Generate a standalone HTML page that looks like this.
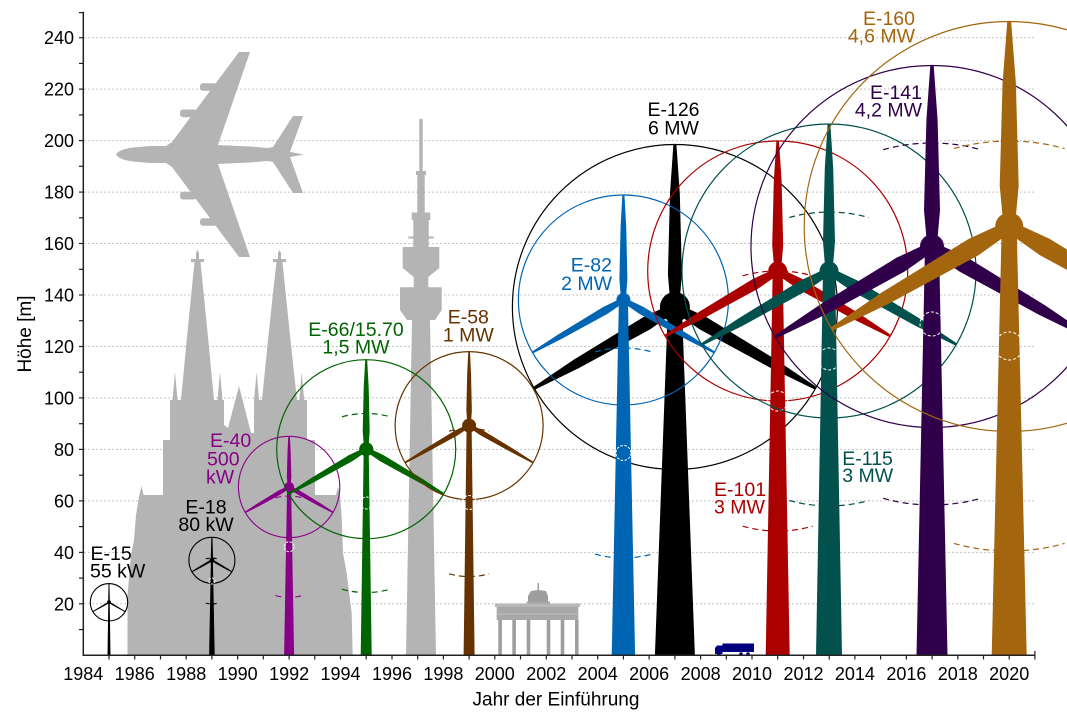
<!DOCTYPE html>
<html><head><meta charset="utf-8"><style>
html,body{margin:0;padding:0;background:#fff}
svg{display:block}
text{font-family:"Liberation Sans",Arial,sans-serif}
</style></head><body>
<svg width="1067" height="720" viewBox="0 0 1067 720" xmlns="http://www.w3.org/2000/svg">
<rect width="1067" height="720" fill="#fff"/>

<!-- grid -->
<g stroke="#c4c4c4" stroke-width="1" stroke-dasharray="2,2">
<line x1="84" x2="1034" y1="603.8" y2="603.8"/><line x1="84" x2="1034" y1="552.4" y2="552.4"/>
<line x1="84" x2="1034" y1="500.9" y2="500.9"/><line x1="84" x2="1034" y1="449.4" y2="449.4"/>
<line x1="84" x2="1034" y1="397.9" y2="397.9"/><line x1="84" x2="1034" y1="346.5" y2="346.5"/>
<line x1="84" x2="1034" y1="295.0" y2="295.0"/><line x1="84" x2="1034" y1="243.5" y2="243.5"/>
<line x1="84" x2="1034" y1="192.1" y2="192.1"/><line x1="84" x2="1034" y1="140.6" y2="140.6"/>
<line x1="84" x2="1034" y1="89.1" y2="89.1"/><line x1="84" x2="1034" y1="37.7" y2="37.7"/>
</g>

<!-- airplane -->
<g fill="#b4b4b4">
<path d="M116,154.5 C118,151 123,149 133,147.5 L150,146 L166,146 L172,142 L239,52 L250,52 L218,145 L250,146.5 L268,148 L273,147 L293,116 L303,116 L290,152 L304,154.5 L290,157 L303,193 L293,193 L273,162 L268,161 L250,162.5 L218,164 L250,257 L239,257 L172,167 L166,163 L150,163 L133,161.5 C123,160 118,158 116,154.5Z"/>
<rect x="200" y="83.3" width="17" height="7.5" rx="3"/>
<rect x="180" y="109.5" width="17" height="7.8" rx="3"/>
<rect x="180" y="191.7" width="17" height="7.8" rx="3"/>
<rect x="200" y="218.3" width="17" height="7.5" rx="3"/>
</g>

<!-- cathedral -->
<path fill="#b4b4b4" d="M127.5,655.3 L127.5,595 L131,555 L134,540 L136,515 L139,497 L141.5,486 L143.5,495 L163,495 L163,440 L170,440 L170,400 L172.5,400 L175,372 L177.5,400 L181,400 L186.7,340 L191.7,290 L194.5,262 L191,262 L191,259 L196,259 L196,253 L197.5,250 L199,253 L199,259 L204,259 L204,262 L200.5,262 L203.3,290 L208.3,340 L214,400 L217.5,400 L220,372 L222.5,400 L224,400 L224,425 L228,428 L239,386 L251,433 L254,433 L254,400 L256.7,372 L259,400 L262,400 L268,340 L273.3,290 L276.5,262 L273,262 L273,259 L278,259 L278,253 L279.5,250 L281,253 L281,259 L286,259 L286,262 L282.5,262 L285.3,290 L290.5,340 L297,400 L299.2,400 L301.7,372 L304.2,400 L307,400 L307,440 L315,440 L315,495 L336,495 L338,487 L340,495 L341.7,517 L343,553 L346.7,573 L351.7,613 L352.7,655.3Z"/>

<!-- TV tower -->
<path fill="#b4b4b4" d="M419.3,119 L422.7,119 L422.7,171 L426,171 L426,175 L424.7,175 L424.7,212.5 L430.3,212.5 L430.3,220 L428.7,220 L428.7,236.5 L433.7,236.5 L433.7,238.5 L428.7,238.5 L428.7,247 L439.3,247 L439.3,268 L428.3,277 L428.3,287.3 L441.7,287.3 L441.7,310 L435,320 L430,320 L436,655.3 L406,655.3 L412,320 L407,320 L400,310 L400,287.3 L413.7,287.3 L413.7,277 L402.7,268 L402.7,247 L413.3,247 L413.3,238.5 L408.3,238.5 L408.3,236.5 L413.3,236.5 L413.3,220 L411.7,220 L411.7,212.5 L417.3,212.5 L417.3,175 L416,175 L416,171 L419.3,171Z"/>

<!-- Brandenburg gate -->
<g>
<path fill="#9e9e9e" d="M537.5,583 L539,583 L539,590 L546,591 L548,596 L548,602 L528,602 L528,596 L531,591 L537.5,590Z"/>
<rect x="526.7" y="601.5" width="23.3" height="10" fill="#a4a4a4"/>
<rect x="495" y="603.5" width="85" height="3.5" fill="#b8b8b8"/>
<rect x="496.7" y="607" width="81.6" height="13" fill="#a8a8a8"/>
<rect x="496.7" y="613" width="81.6" height="2" fill="#b4b4b4"/>
<g fill="#9e9e9e">
<rect x="498.3" y="620" width="3.6" height="35.3"/><rect x="512.3" y="620" width="3.6" height="35.3"/>
<rect x="526.7" y="620" width="3.6" height="35.3"/><rect x="546.7" y="620" width="3.6" height="35.3"/>
<rect x="560.7" y="620" width="3.6" height="35.3"/><rect x="575" y="620" width="3.6" height="35.3"/>
</g>
</g>

<!-- truck -->
<g fill="#00007f">
<path d="M715,654 L715,648 L717,645.5 L722.5,645.5 L722.5,654Z"/>
<rect x="722.5" y="643.5" width="31.5" height="8.5"/>
<circle cx="719" cy="654" r="1.8"/><circle cx="741" cy="654" r="1.8"/><circle cx="748" cy="654" r="1.8"/>
</g>

<!-- E-15 -->
<g fill="#000">
<polygon points="107.5,655.3 108.3,602.3 109.7,602.3 110.5,655.3"/>
<g transform="translate(109,602.3)">
<path d="M-0.5,0 L-0.8,-3.7 L-0.56,-13.1 L-0.5,-18.7 L0.5,-18.7 L0.56,-13.1 L0.8,-3.7 L0.5,0Z"/>
<path d="M-0.5,0 L-0.8,-3.7 L-0.56,-13.1 L-0.5,-18.7 L0.5,-18.7 L0.56,-13.1 L0.8,-3.7 L0.5,0Z" transform="rotate(120)"/>
<path d="M-0.5,0 L-0.8,-3.7 L-0.56,-13.1 L-0.5,-18.7 L0.5,-18.7 L0.56,-13.1 L0.8,-3.7 L0.5,0Z" transform="rotate(240)"/>
<circle r="2"/>
</g>
<circle cx="109" cy="602.3" r="18.7" fill="none" stroke="#000" stroke-width="1.1"/>
</g>

<!-- E-18 -->
<g fill="#000">
<polygon points="209.1,655.3 210.9,560.3 212.9,560.3 214.7,655.3"/>
<g transform="translate(211.9,560.3)">
<path d="M-0.66,0 L-1.1,-4.6 L-0.77,-16.1 L-0.58,-23 L0.58,-23 L0.77,-16.1 L1.1,-4.6 L0.66,0Z"/>
<path d="M-0.66,0 L-1.1,-4.6 L-0.77,-16.1 L-0.58,-23 L0.58,-23 L0.77,-16.1 L1.1,-4.6 L0.66,0Z" transform="rotate(120)"/>
<path d="M-0.66,0 L-1.1,-4.6 L-0.77,-16.1 L-0.58,-23 L0.58,-23 L0.77,-16.1 L1.1,-4.6 L0.66,0Z" transform="rotate(240)"/>
<circle r="2.5"/>
</g>
<circle cx="211.9" cy="560.3" r="23" fill="none" stroke="#000" stroke-width="1.1"/>
<g fill="none" stroke="#000" stroke-width="1.1" stroke-dasharray="4,3">
<path d="M205.7,558.9 A23,23 0 0 1 218.1,558.9"/><path d="M205.7,603.1 A23,23 0 0 0 218.1,603.1"/>
</g>
<circle cx="211.9" cy="581" r="3" fill="none" stroke="#fff" stroke-width="1" stroke-dasharray="2,1.5"/>
</g>

<!-- E-40 -->
<g fill="#880088">
<polygon points="284.1,655.3 287.1,487 291.1,487 294.1,655.3"/>
<g transform="translate(289.1,487)">
<path d="M-1.35,0 L-2.25,-10.1 L-1.58,-35.5 L-0.76,-50.7 L0.76,-50.7 L1.58,-35.5 L2.25,-10.1 L1.35,0Z"/>
<path d="M-1.35,0 L-2.25,-10.1 L-1.58,-35.5 L-0.76,-50.7 L0.76,-50.7 L1.58,-35.5 L2.25,-10.1 L1.35,0Z" transform="rotate(120)"/>
<path d="M-1.35,0 L-2.25,-10.1 L-1.58,-35.5 L-0.76,-50.7 L0.76,-50.7 L1.58,-35.5 L2.25,-10.1 L1.35,0Z" transform="rotate(240)"/>
<circle r="5"/>
</g>
<circle cx="289.1" cy="487" r="50.7" fill="none" stroke="#880088" stroke-width="1.1"/>
<g fill="none" stroke="#880088" stroke-width="1.1" stroke-dasharray="6,4">
<path d="M275.4,497.9 A50.7,50.7 0 0 1 302.8,497.9"/><path d="M275.4,595.5 A50.7,50.7 0 0 0 302.8,595.5"/>
</g>
<circle cx="289.1" cy="546.7" r="5" fill="none" stroke="#fff" stroke-width="1" stroke-dasharray="2.5,1.5"/>
</g>

<!-- E-66 -->
<g fill="#006400">
<polygon points="360.7,655.3 363.7,449.2 368.7,449.2 371.7,655.3"/>
<g transform="translate(366.2,449.2)">
<path d="M-2.1,0 L-3.5,-17.9 L-2.45,-62.7 L-0.96,-89.5 L0.96,-89.5 L2.45,-62.7 L3.5,-17.9 L2.1,0Z"/>
<path d="M-2.1,0 L-3.5,-17.9 L-2.45,-62.7 L-0.96,-89.5 L0.96,-89.5 L2.45,-62.7 L3.5,-17.9 L2.1,0Z" transform="rotate(120)"/>
<path d="M-2.1,0 L-3.5,-17.9 L-2.45,-62.7 L-0.96,-89.5 L0.96,-89.5 L2.45,-62.7 L3.5,-17.9 L2.1,0Z" transform="rotate(240)"/>
<circle r="7"/>
</g>
<circle cx="366.2" cy="449.2" r="89.5" fill="none" stroke="#006400" stroke-width="1.2"/>
<g fill="none" stroke="#006400" stroke-width="1.2" stroke-dasharray="6,4">
<path d="M342,416.8 A89.5,89.5 0 0 1 390.4,416.8"/><path d="M342,589.2 A89.5,89.5 0 0 0 390.4,589.2"/>
</g>
<circle cx="366.2" cy="503" r="6" fill="none" stroke="#fff" stroke-width="1" stroke-dasharray="2.5,1.5"/>
</g>

<!-- E-58 -->
<g fill="#663300">
<polygon points="463.6,655.3 466.6,425.6 471.6,425.6 474.6,655.3"/>
<g transform="translate(469.1,425.6)">
<path d="M-1.65,0 L-2.75,-14.8 L-1.93,-51.8 L-0.84,-74 L0.84,-74 L1.93,-51.8 L2.75,-14.8 L1.65,0Z"/>
<path d="M-1.65,0 L-2.75,-14.8 L-1.93,-51.8 L-0.84,-74 L0.84,-74 L1.93,-51.8 L2.75,-14.8 L1.65,0Z" transform="rotate(120)"/>
<path d="M-1.65,0 L-2.75,-14.8 L-1.93,-51.8 L-0.84,-74 L0.84,-74 L1.93,-51.8 L2.75,-14.8 L1.65,0Z" transform="rotate(240)"/>
<circle r="7"/>
</g>
<circle cx="469.1" cy="425.6" r="74" fill="none" stroke="#663300" stroke-width="1.2"/>
<g fill="none" stroke="#663300" stroke-width="1.2" stroke-dasharray="6,4">
<path d="M449.1,431.2 A74,74 0 0 1 489.1,431.2"/><path d="M449.1,573.8 A74,74 0 0 0 489.1,573.8"/>
</g>
<circle cx="469.1" cy="502.5" r="7" fill="none" stroke="#fff" stroke-width="1" stroke-dasharray="2.5,1.5"/>
</g>

<!-- E-126 -->
<g fill="#000">
<polygon points="654.9,655.3 667.9,307 681.9,307 694.9,655.3"/>
<g transform="translate(674.9,307)">
<path d="M-4.2,0 L-7,-32.5 L-4.9,-113.8 L-1.52,-162.5 L1.52,-162.5 L4.9,-113.8 L7,-32.5 L4.2,0Z"/>
<path d="M-4.2,0 L-7,-32.5 L-4.9,-113.8 L-1.52,-162.5 L1.52,-162.5 L4.9,-113.8 L7,-32.5 L4.2,0Z" transform="rotate(120)"/>
<path d="M-4.2,0 L-7,-32.5 L-4.9,-113.8 L-1.52,-162.5 L1.52,-162.5 L4.9,-113.8 L7,-32.5 L4.2,0Z" transform="rotate(240)"/>
<circle r="15"/>
</g>
<circle cx="674.9" cy="307" r="162.5" fill="none" stroke="#000" stroke-width="1.2"/>
</g>

<!-- E-82 -->
<g fill="#0066b3">
<polygon points="611.7,655.3 618.9,300 627.9,300 635.1,655.3"/>
<g transform="translate(623.4,300)">
<path d="M-2.4,0 L-4,-21 L-2.8,-73.5 L-1.04,-105 L1.04,-105 L2.8,-73.5 L4,-21 L2.4,0Z"/>
<path d="M-2.4,0 L-4,-21 L-2.8,-73.5 L-1.04,-105 L1.04,-105 L2.8,-73.5 L4,-21 L2.4,0Z" transform="rotate(120)"/>
<path d="M-2.4,0 L-4,-21 L-2.8,-73.5 L-1.04,-105 L1.04,-105 L2.8,-73.5 L4,-21 L2.4,0Z" transform="rotate(240)"/>
<circle r="7"/>
</g>
<circle cx="623.4" cy="300" r="105" fill="none" stroke="#0066b3" stroke-width="1.2"/>
<g fill="none" stroke="#0066b3" stroke-width="1.2" stroke-dasharray="6,4">
<path d="M595,351.9 A105,105 0 0 1 651.8,351.9"/><path d="M595,554.1 A105,105 0 0 0 651.8,554.1"/>
</g>
<circle cx="623.4" cy="453" r="7.5" fill="none" stroke="#fff" stroke-width="1" stroke-dasharray="2.5,1.5"/>
</g>

<!-- E-101 -->
<g fill="#aa0000">
<polygon points="765.7,655.3 772.7,271 782.7,271 789.7,655.3"/>
<g transform="translate(777.7,271)">
<path d="M-3.3,0 L-5.5,-26 L-3.85,-91 L-1.28,-130 L1.28,-130 L3.85,-91 L5.5,-26 L3.3,0Z"/>
<path d="M-3.3,0 L-5.5,-26 L-3.85,-91 L-1.28,-130 L1.28,-130 L3.85,-91 L5.5,-26 L3.3,0Z" transform="rotate(120)"/>
<path d="M-3.3,0 L-5.5,-26 L-3.85,-91 L-1.28,-130 L1.28,-130 L3.85,-91 L5.5,-26 L3.3,0Z" transform="rotate(240)"/>
<circle r="9.5"/>
</g>
<circle cx="777.7" cy="271" r="130" fill="none" stroke="#aa0000" stroke-width="1.2"/>
<g fill="none" stroke="#aa0000" stroke-width="1.2" stroke-dasharray="6,4">
<path d="M742.6,275.8 A130,130 0 0 1 812.8,275.8"/><path d="M742.6,526.2 A130,130 0 0 0 812.8,526.2"/>
</g>
<circle cx="777.7" cy="401" r="10" fill="none" stroke="#fff" stroke-width="1" stroke-dasharray="3,2"/>
</g>

<!-- E-115 -->
<g fill="#02514d">
<polygon points="816,655.3 823,271 835,271 842,655.3"/>
<g transform="translate(829,271)">
<path d="M-3.6,0 L-6,-29.4 L-4.2,-102.9 L-1.36,-147 L1.36,-147 L4.2,-102.9 L6,-29.4 L3.6,0Z"/>
<path d="M-3.6,0 L-6,-29.4 L-4.2,-102.9 L-1.36,-147 L1.36,-147 L4.2,-102.9 L6,-29.4 L3.6,0Z" transform="rotate(120)"/>
<path d="M-3.6,0 L-6,-29.4 L-4.2,-102.9 L-1.36,-147 L1.36,-147 L4.2,-102.9 L6,-29.4 L3.6,0Z" transform="rotate(240)"/>
<circle r="9.5"/>
</g>
<circle cx="829" cy="271" r="147" fill="none" stroke="#02514d" stroke-width="1.2"/>
<g fill="none" stroke="#02514d" stroke-width="1.2" stroke-dasharray="6,4">
<path d="M789.3,217.5 A147,147 0 0 1 868.7,217.5"/><path d="M789.3,500.5 A147,147 0 0 0 868.7,500.5"/>
</g>
<circle cx="829" cy="359" r="11" fill="none" stroke="#fff" stroke-width="1" stroke-dasharray="3,2"/>
</g>

<!-- E-141 -->
<g fill="#30004a">
<polygon points="916.5,655.3 925,246.5 939,246.5 947.5,655.3"/>
<g transform="translate(932,246.5)">
<path d="M-4.8,0 L-8,-36.2 L-5.6,-126.7 L-1.68,-181 L1.68,-181 L5.6,-126.7 L8,-36.2 L4.8,0Z"/>
<path d="M-4.8,0 L-8,-36.2 L-5.6,-126.7 L-1.68,-181 L1.68,-181 L5.6,-126.7 L8,-36.2 L4.8,0Z" transform="rotate(120)"/>
<path d="M-4.8,0 L-8,-36.2 L-5.6,-126.7 L-1.68,-181 L1.68,-181 L5.6,-126.7 L8,-36.2 L4.8,0Z" transform="rotate(240)"/>
<circle r="12"/>
</g>
<circle cx="932" cy="246.5" r="181" fill="none" stroke="#30004a" stroke-width="1.2"/>
<g fill="none" stroke="#30004a" stroke-width="1.2" stroke-dasharray="6,4">
<path d="M883.1,149.7 A181,181 0 0 1 980.9,149.7"/><path d="M883.1,498.3 A181,181 0 0 0 980.9,498.3"/>
</g>
<circle cx="932" cy="324" r="12" fill="none" stroke="#fff" stroke-width="1" stroke-dasharray="3,2"/>
</g>

<!-- E-160 -->
<g fill="#a3660f">
<polygon points="991.7,655.3 1001.7,226.5 1016.7,226.5 1026.7,655.3"/>
<g transform="translate(1009.2,226.5)">
<path d="M-5.7,0 L-9.5,-41 L-6.65,-143.5 L-1.92,-205 L1.92,-205 L6.65,-143.5 L9.5,-41 L5.7,0Z"/>
<path d="M-5.7,0 L-9.5,-41 L-6.65,-143.5 L-1.92,-205 L1.92,-205 L6.65,-143.5 L9.5,-41 L5.7,0Z" transform="rotate(120)"/>
<path d="M-5.7,0 L-9.5,-41 L-6.65,-143.5 L-1.92,-205 L1.92,-205 L6.65,-143.5 L9.5,-41 L5.7,0Z" transform="rotate(240)"/>
<circle r="14"/>
</g>
<circle cx="1009.2" cy="226.5" r="205" fill="none" stroke="#a3660f" stroke-width="1.2"/>
<g fill="none" stroke="#a3660f" stroke-width="1.2" stroke-dasharray="6,4">
<path d="M953.8,148.6 A205,205 0 0 1 1064.6,148.6"/><path d="M953.8,543.4 A205,205 0 0 0 1064.6,543.4"/>
</g>
<circle cx="1009.2" cy="346" r="14" fill="none" stroke="#fff" stroke-width="1" stroke-dasharray="3,2"/>
</g>

<!-- axes -->
<g stroke="#222" stroke-width="1.5" fill="none">
<line x1="83.3" y1="11.9" x2="83.3" y2="656"/>
<line x1="82.5" y1="655.3" x2="1035" y2="655.3"/>
</g>
<g stroke="#222" stroke-width="1.2">
<line x1="79" x2="83.3" y1="629.6" y2="629.6"/><line x1="79" x2="83.3" y1="603.8" y2="603.8"/>
<line x1="79" x2="83.3" y1="578.1" y2="578.1"/><line x1="79" x2="83.3" y1="552.4" y2="552.4"/>
<line x1="79" x2="83.3" y1="526.6" y2="526.6"/><line x1="79" x2="83.3" y1="500.9" y2="500.9"/>
<line x1="79" x2="83.3" y1="475.2" y2="475.2"/><line x1="79" x2="83.3" y1="449.4" y2="449.4"/>
<line x1="79" x2="83.3" y1="423.7" y2="423.7"/><line x1="79" x2="83.3" y1="397.9" y2="397.9"/>
<line x1="79" x2="83.3" y1="372.2" y2="372.2"/><line x1="79" x2="83.3" y1="346.5" y2="346.5"/>
<line x1="79" x2="83.3" y1="320.7" y2="320.7"/><line x1="79" x2="83.3" y1="295.0" y2="295.0"/>
<line x1="79" x2="83.3" y1="269.3" y2="269.3"/><line x1="79" x2="83.3" y1="243.5" y2="243.5"/>
<line x1="79" x2="83.3" y1="217.8" y2="217.8"/><line x1="79" x2="83.3" y1="192.1" y2="192.1"/>
<line x1="79" x2="83.3" y1="166.3" y2="166.3"/><line x1="79" x2="83.3" y1="140.6" y2="140.6"/>
<line x1="79" x2="83.3" y1="114.9" y2="114.9"/><line x1="79" x2="83.3" y1="89.1" y2="89.1"/>
<line x1="79" x2="83.3" y1="63.4" y2="63.4"/><line x1="79" x2="83.3" y1="37.7" y2="37.7"/>
<line x1="79" x2="83.3" y1="12.6" y2="12.6"/>
<line x1="109.0" x2="109.0" y1="655.3" y2="659.5"/><line x1="134.7" x2="134.7" y1="655.3" y2="659.5"/>
<line x1="160.5" x2="160.5" y1="655.3" y2="659.5"/><line x1="186.2" x2="186.2" y1="655.3" y2="659.5"/>
<line x1="211.9" x2="211.9" y1="655.3" y2="659.5"/><line x1="237.6" x2="237.6" y1="655.3" y2="659.5"/>
<line x1="263.3" x2="263.3" y1="655.3" y2="659.5"/><line x1="289.1" x2="289.1" y1="655.3" y2="659.5"/>
<line x1="314.8" x2="314.8" y1="655.3" y2="659.5"/><line x1="340.5" x2="340.5" y1="655.3" y2="659.5"/>
<line x1="366.2" x2="366.2" y1="655.3" y2="659.5"/><line x1="392.0" x2="392.0" y1="655.3" y2="659.5"/>
<line x1="417.7" x2="417.7" y1="655.3" y2="659.5"/><line x1="443.4" x2="443.4" y1="655.3" y2="659.5"/>
<line x1="469.1" x2="469.1" y1="655.3" y2="659.5"/><line x1="494.8" x2="494.8" y1="655.3" y2="659.5"/>
<line x1="520.5" x2="520.5" y1="655.3" y2="659.5"/><line x1="546.3" x2="546.3" y1="655.3" y2="659.5"/>
<line x1="572.0" x2="572.0" y1="655.3" y2="659.5"/><line x1="597.7" x2="597.7" y1="655.3" y2="659.5"/>
<line x1="623.4" x2="623.4" y1="655.3" y2="659.5"/><line x1="649.1" x2="649.1" y1="655.3" y2="659.5"/>
<line x1="674.9" x2="674.9" y1="655.3" y2="659.5"/><line x1="700.6" x2="700.6" y1="655.3" y2="659.5"/>
<line x1="726.3" x2="726.3" y1="655.3" y2="659.5"/><line x1="752.0" x2="752.0" y1="655.3" y2="659.5"/>
<line x1="777.7" x2="777.7" y1="655.3" y2="659.5"/><line x1="803.5" x2="803.5" y1="655.3" y2="659.5"/>
<line x1="829.2" x2="829.2" y1="655.3" y2="659.5"/><line x1="854.9" x2="854.9" y1="655.3" y2="659.5"/>
<line x1="880.6" x2="880.6" y1="655.3" y2="659.5"/><line x1="906.4" x2="906.4" y1="655.3" y2="659.5"/>
<line x1="932.1" x2="932.1" y1="655.3" y2="659.5"/><line x1="957.8" x2="957.8" y1="655.3" y2="659.5"/>
<line x1="983.5" x2="983.5" y1="655.3" y2="659.5"/><line x1="1009.2" x2="1009.2" y1="655.3" y2="659.5"/>
<line x1="1034.9" x2="1034.9" y1="651" y2="659.5"/>
</g>

<!-- y labels -->
<g font-size="18" fill="#000" text-anchor="end">
<text x="74" y="610.3">20</text><text x="74" y="558.9">40</text><text x="74" y="507.4">60</text>
<text x="74" y="455.9">80</text><text x="74" y="404.4">100</text><text x="74" y="353">120</text>
<text x="74" y="301.5">140</text><text x="74" y="250">160</text><text x="74" y="198.6">180</text>
<text x="74" y="147.1">200</text><text x="74" y="95.6">220</text><text x="74" y="44.2">240</text>
</g>
<!-- x labels -->
<g font-size="18" fill="#000" text-anchor="middle">
<text x="83.3" y="680">1984</text><text x="134.7" y="680">1986</text><text x="186.2" y="680">1988</text>
<text x="237.6" y="680">1990</text><text x="289.1" y="680">1992</text><text x="340.5" y="680">1994</text>
<text x="392.0" y="680">1996</text><text x="443.4" y="680">1998</text><text x="494.8" y="680">2000</text>
<text x="546.3" y="680">2002</text><text x="597.7" y="680">2004</text><text x="649.1" y="680">2006</text>
<text x="700.6" y="680">2008</text><text x="752.0" y="680">2010</text><text x="803.5" y="680">2012</text>
<text x="854.9" y="680">2014</text><text x="906.4" y="680">2016</text><text x="957.8" y="680">2018</text>
<text x="1009.2" y="680">2020</text>
</g>
<text x="556" y="705.5" font-size="19" text-anchor="middle" fill="#000">Jahr der Einführung</text>
<text transform="translate(31,334) rotate(-90)" font-size="19" text-anchor="middle" fill="#000">Höhe [m]</text>

<!-- turbine labels -->
<g font-size="19.5">
<text x="90.5" y="560" fill="#000">E-15</text><text x="90" y="577.5" fill="#000">55 kW</text>
<text x="206" y="513.5" fill="#000" text-anchor="middle">E-18</text><text x="206" y="531" fill="#000" text-anchor="middle">80 kW</text>
<text x="210" y="447" fill="#880088">E-40</text><text x="207" y="465.5" fill="#880088">500</text><text x="206" y="483.5" fill="#880088">kW</text>
<text x="356" y="336" fill="#006400" text-anchor="middle">E-66/15.70</text><text x="356" y="353.5" fill="#006400" text-anchor="middle">1,5 MW</text>
<text x="468.3" y="323.3" fill="#663300" text-anchor="middle">E-58</text><text x="468.3" y="341.7" fill="#663300" text-anchor="middle">1 MW</text>
<text x="612" y="271.7" fill="#0066b3" text-anchor="end">E-82</text><text x="612" y="290" fill="#0066b3" text-anchor="end">2 MW</text>
<text x="673.5" y="116" fill="#000" text-anchor="middle">E-126</text><text x="673.5" y="134.3" fill="#000" text-anchor="middle">6 MW</text>
<text x="714" y="496" fill="#aa0000">E-101</text><text x="714" y="513.3" fill="#aa0000">3 MW</text>
<text x="842.3" y="465" fill="#02514d">E-115</text><text x="842.3" y="482" fill="#02514d">3 MW</text>
<text x="922" y="99" fill="#30004a" text-anchor="end">E-141</text><text x="922" y="116.7" fill="#30004a" text-anchor="end">4,2 MW</text>
<text x="915" y="25" fill="#a3660f" text-anchor="end">E-160</text><text x="915" y="42.7" fill="#a3660f" text-anchor="end">4,6 MW</text>
</g>
</svg>
</body></html>
